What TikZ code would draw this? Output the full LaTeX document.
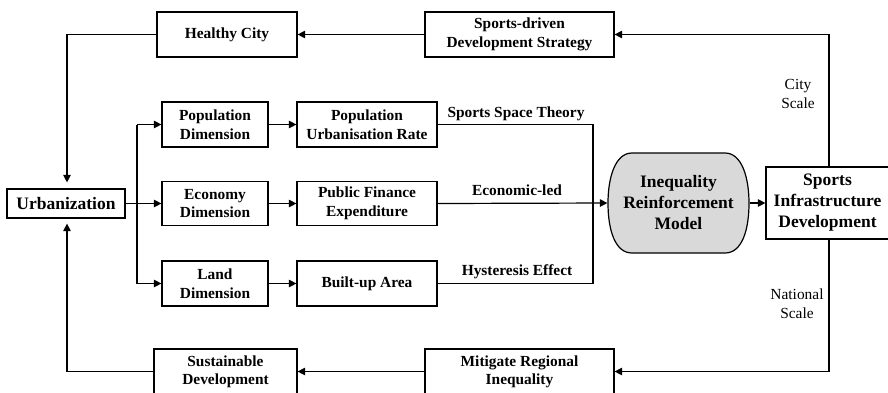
\documentclass[tikz,border=0pt]{standalone}
\usepackage{fontspec}
\setmainfont{Liberation Serif}
\usetikzlibrary{arrows.meta}
\definecolor{irmgray}{RGB}{217,217,217}
\tikzset{
  box/.style={draw, line width=1.2pt, align=center, inner sep=0pt,
    font=\fontsize{15.4}{18.5}\selectfont\bfseries},
  bigbox/.style={box, font=\fontsize{17.5}{21}\selectfont\bfseries},
  conn/.style={line width=1.2pt},
  arr/.style={conn, -{Triangle[length=7.5pt,width=7.5pt]}},
  lbl/.style={font=\fontsize{15.4}{18.5}\selectfont\bfseries, inner sep=0pt},
  scl/.style={font=\fontsize{15.4}{19}\selectfont, align=center, inner sep=0pt},
}
\begin{document}
\begin{tikzpicture}[x=1pt,y=-1pt]
\useasboundingbox (0,0) rectangle (888,392);
% rounded model shape
\filldraw[line width=1.2pt, fill=irmgray]
  (632,153) -- (725,153) .. controls (742,153) and (749,178) .. (749,203)
  .. controls (749,230) and (742,253) .. (725,253) -- (632,253)
  .. controls (615,253) and (608,230) .. (608,203)
  .. controls (608,178) and (615,153) .. (632,153) -- cycle;
% nodes
\node[box, minimum width=140pt, minimum height=45pt] (hc) at (227,34.5) {Healthy City};
\node[box, minimum width=189pt, minimum height=45pt] (sds) at (519.5,34.5) {Sports-driven\\Development Strategy};
\node[box, minimum width=106pt, minimum height=45pt] (pd) at (215,124.5) {Population\\Dimension};
\node[box, minimum width=140pt, minimum height=45pt] (pur) at (367,124.5) {Population\\Urbanisation Rate};
\node[box, minimum width=106pt, minimum height=44pt] (ed) at (215,203.5) {Economy\\Dimension};
\node[box, minimum width=140pt, minimum height=44pt] (pfe) at (367,203.5) {Public Finance\\Expenditure};
\node[box, minimum width=106pt, minimum height=45pt] (ld) at (215,283.5) {Land\\Dimension};
\node[box, minimum width=140pt, minimum height=45pt] (ba) at (367,283.5) {Built-up Area};
\node[bigbox, minimum width=118pt, minimum height=29pt] (urb) at (66,203.5) {Urbanization};
\node[bigbox, draw=none, minimum width=141pt, minimum height=100pt] (irm) at (678.5,203) {Inequality\\Reinforcement\\Model};
\node[bigbox, minimum width=123pt, minimum height=72pt] (sid) at (827.5,203) {Sports\\Infrastructure\\Development};
\node[box, minimum width=143pt, minimum height=46pt] (sud) at (225.5,372) {Sustainable\\Development};
\node[box, minimum width=189pt, minimum height=46pt] (mri) at (519.5,372) {Mitigate Regional\\Inequality};
% coordinates
\coordinate (hcl) at (67,34.5);
\coordinate (sudl) at (67,371.5);
\coordinate (br) at (137,203.5);
\coordinate (brt) at (137,124.5);
\coordinate (brb) at (137,283.5);
\coordinate (jt) at (593,124.5);
\coordinate (jb) at (593,283.5);
\coordinate (sidt) at (829,34.5);
\coordinate (sidb) at (829,371.5);
% connectors
\draw[arr] (sds.west) -- (hc.east);
\draw[arr, shorten >=6pt] (hc.west) -- (hcl) -- (hcl |- urb.north);
\draw[arr] (sid.north -| sidt) -- (sidt) -- (sds.east |- sidt);
\draw[arr] (sid.south -| sidb) -- (sidb) -- (mri.east |- sidb);
\draw[arr] (mri.west |- sidb) -- (sud.east |- sidb);
\draw[arr, shorten >=5pt] (sud.west |- sudl) -- (sudl) -- (sudl |- urb.south);
\draw[conn] (urb.east) -- (br);
\draw[conn] (brt) -- (brb);
\draw[arr] (brt) -- (pd.west);
\draw[arr] (br) -- (ed.west);
\draw[arr] (brb) -- (ld.west);
\draw[arr] (pd) -- (pur);
\draw[arr] (ed) -- (pfe);
\draw[arr] (ld) -- (ba);
\draw[conn] (pur.east) -- (jt) -- (jb) -- (ba.east);
\draw[arr] (pfe.east) -- (irm.west);
\draw[arr] (irm.east) -- (sid.west);
% labels
\node[lbl, anchor=base] (l1) at (516,117) {Sports Space Theory};
\node[lbl, anchor=base] (l2) at (517,195) {Economic-led};
\node[lbl, anchor=base] (l3) at (517,275) {Hysteresis Effect};
\node[scl] (l4) at (798,94) {City\\Scale};
\node[scl] (l5) at (797,304) {National\\Scale};
\end{tikzpicture}
\end{document}
